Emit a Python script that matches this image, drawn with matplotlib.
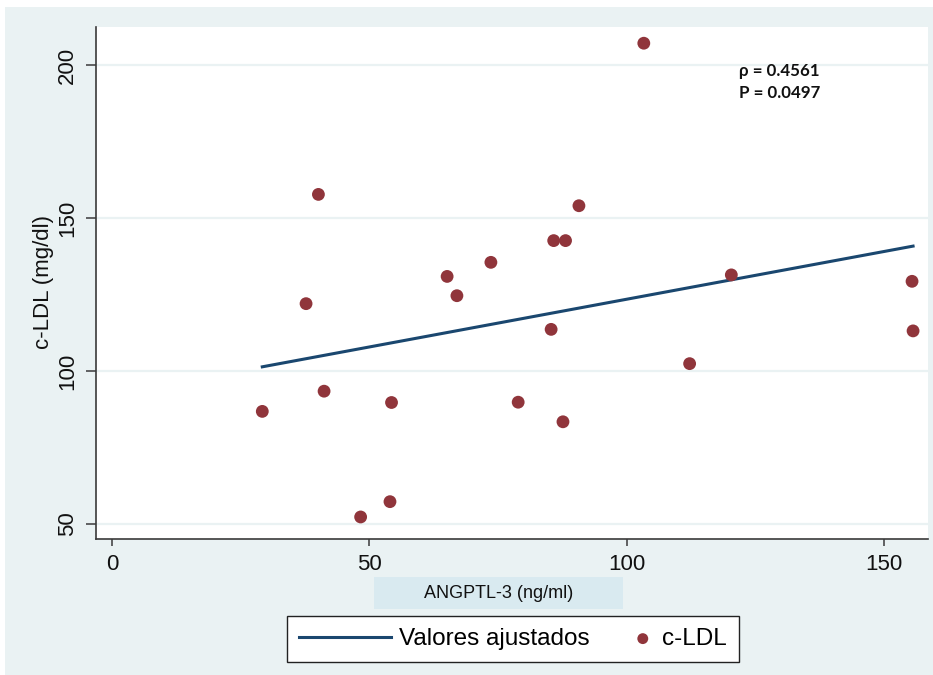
import numpy as np
import matplotlib
matplotlib.use("Agg")
import matplotlib.pyplot as plt
from matplotlib.patches import Rectangle
from matplotlib.legend_handler import HandlerPathCollection

plt.rcParams['font.family'] = ['Liberation Sans', 'DejaVu Sans']

# ANGPTL-3 (ng/ml) vs c-LDL (mg/dl)
angptl3 = [29.2, 37.7, 40.1, 41.2, 48.3, 54.0, 54.3, 65.1, 67.0, 73.6, 78.9,
           85.3, 85.8, 88.1, 87.6, 90.7, 103.3, 112.2, 120.3, 155.4, 155.6]
cldl = [86.8, 122.0, 157.7, 93.4, 52.3, 57.3, 89.7, 130.9, 124.6, 135.5, 89.8,
        113.6, 142.6, 142.6, 83.4, 154.0, 207.1, 102.4, 131.4, 129.3, 113.1]
xticks = [0, 50, 100, 150]
yticks = [50, 100, 150, 200]
rho_txt = "\u03c1 = 0.4561"
p_txt = "P = 0.0497"

bg = '#eaf2f3'
maroon = '#90353b'
navy = '#1a476f'

x = np.array(angptl3)
y = np.array(cldl)

# linear fit (valores ajustados) over the observed range
b1, b0 = np.polyfit(x, y, 1)
xfit = np.array([x.min(), x.max()])
yfit = b0 + b1 * xfit


class RightDot(HandlerPathCollection):
    # put the legend dot near the right end of its handle box
    def get_xdata(self, legend, xdescent, ydescent, width, height, fontsize):
        return [-xdescent, -xdescent + width], [-xdescent + width - 0.5 * fontsize]


fig = plt.figure(figsize=(9.33, 6.75), dpi=100, facecolor='white')
fig.patches.append(Rectangle((5 / 933, 0), 928 / 933, 668 / 675,
                             transform=fig.transFigure, facecolor=bg,
                             edgecolor='none', zorder=-10))

ax = fig.add_axes([96 / 933, 136 / 675, 832 / 933, 512 / 675])
ax.set_zorder(1)
ax.set_facecolor('white')

for yt in yticks:
    ax.axhline(yt, color=bg, lw=1.6, zorder=1)

line, = ax.plot(xfit, yfit, color=navy, lw=2.2, zorder=2,
                label='Valores ajustados')
pts = ax.scatter(x, y, s=85, color=maroon, edgecolors='none', zorder=3,
                 label='c-LDL')

ax.set_xlim(-3.1, 158.5)
ax.set_ylim(45.1, 212.4)
ax.set_xticks(xticks)
ax.set_yticks(yticks)

for s in ['top', 'right']:
    ax.spines[s].set_visible(False)
for s in ['left', 'bottom']:
    ax.spines[s].set_color('#3a3a3a')
    ax.spines[s].set_linewidth(1.2)

ax.tick_params(axis='x', length=5, width=1.1, color='#3a3a3a', pad=6,
               labelsize=16, labelcolor='#111111')
ax.tick_params(axis='y', length=7, width=1.1, color='#3a3a3a', pad=6,
               labelsize=16, labelcolor='#111111', labelrotation=90)
for t in ax.get_yticklabels():
    t.set_va('center')

fig.text(43 / 933, 1 - 282 / 675, 'c-LDL (mg/dl)', rotation=90,
         ha='center', va='center', fontsize=16, color='#111111')

# x axis title on a shaded band
fig.patches.append(Rectangle((374 / 933, 66 / 675), 249 / 933, 32 / 675,
                             transform=fig.transFigure, facecolor='#d9eaf0',
                             edgecolor='none', zorder=-5))
fig.text(498.5 / 933, 1 - 593 / 675, 'ANGPTL-3 (ng/ml)', ha='center',
         va='center', fontsize=13, color='#111111')

ax.text(121.7, 194.3, rho_txt + "\n" + p_txt, fontsize=12.2, fontweight='bold',
        family=['Lato', 'DejaVu Sans'], ha='left', va='center',
        linespacing=1.45, color='#111111')

leg = fig.legend([line, pts], ['Valores ajustados', 'c-LDL'],
                 loc='center', bbox_to_anchor=(513 / 933, 36 / 675),
                 ncol=2, fontsize=17.5, frameon=True, fancybox=False,
                 edgecolor='#222222', framealpha=1, borderpad=0.5,
                 handlelength=3.8, handletextpad=0.3, columnspacing=-1.1,
                 scatterpoints=1, markerscale=0.85,
                 handler_map={pts: RightDot()})
leg.get_frame().set_linewidth(1.0)

fig.savefig('out.png', dpi=100, facecolor=fig.get_facecolor())
